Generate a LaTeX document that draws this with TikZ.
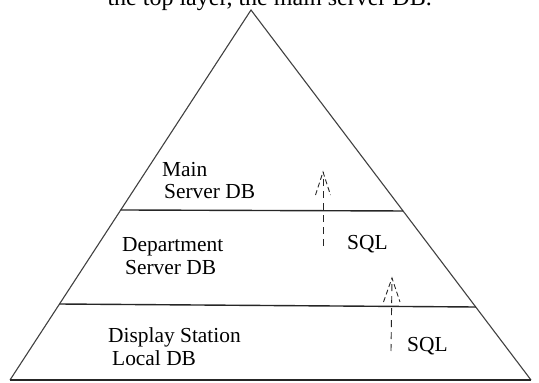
\documentclass[tikz,border=0pt]{standalone}
\usepackage{fontspec}
\setmainfont{Liberation Serif}
\usetikzlibrary{calc}
\begin{document}
\begin{tikzpicture}[x=1pt,y=-1pt,
  side/.style={line width=1.1pt, draw=black!75, line join=miter},
  layer/.style={line width=1.4pt, draw=black!85},
  flow/.style={line width=0.9pt, dash pattern=on 7pt off 5pt, draw=black!85},
  headline/.style={line width=0.9pt, dash pattern=on 5pt off 3pt, draw=black!85},
  lbl/.style={anchor=base west, inner sep=0pt, font=\rmfamily\fontsize{21.4}{24}\selectfont},
  cut/.style={anchor=base east, inner sep=0pt, font=\rmfamily\fontsize{24}{26}\selectfont},
]
\useasboundingbox (0,0) rectangle (539,383);
\clip (0,0) rectangle (539,383);
% clipped caption line at the top
\node[cut] (caption) at (432,5) {the top layer, the main server DB.};
% pyramid
\coordinate (apex) at (251,10);
\coordinate (bl) at (10,380);
\coordinate (br) at (531,380);
\draw[side] (bl) -- (apex) -- (br);
\draw[layer] (bl) -- (br);
% layer lines
\coordinate (l1) at ($(apex)!0.5405!(bl)$);
\coordinate (r1) at ($(apex)!0.5432!(br)$);
\coordinate (l2) at ($(apex)!0.7946!(bl)$);
\coordinate (r2) at ($(apex)!0.8027!(br)$);
\draw[layer] (l1) -- (r1);
\draw[layer] (l2) -- (r2);
% labels
\node[lbl] (main1) at (162,176) {Main};
\node[lbl] (main2) at (164,198) {Server DB};
\node[lbl] (dep1) at (122,251) {Department};
\node[lbl] (dep2) at (125,274) {Server DB};
\node[lbl] (disp1) at (108,342) {Display Station};
\node[lbl] (disp2) at (112,365) {Local DB};
\node[lbl] (sql1) at (347,249) {SQL};
\node[lbl] (sql2) at (407,351) {SQL};
% SQL arrows
\coordinate (a1s) at (323,246);
\coordinate (a1t) at (323,172);
\coordinate (a2s) at (391,351);
\coordinate (a2t) at (392,278);
\draw[flow] (a1s) -- (a1t);
\draw[headline] ($(a1t)+(-7.5,23)$) -- (a1t) -- ($(a1t)+(7.5,23)$);
\draw[flow] (a2s) -- (a2t);
\draw[headline] ($(a2t)+(-8.5,24)$) -- (a2t) -- ($(a2t)+(8,24)$);
\end{tikzpicture}
\end{document}
